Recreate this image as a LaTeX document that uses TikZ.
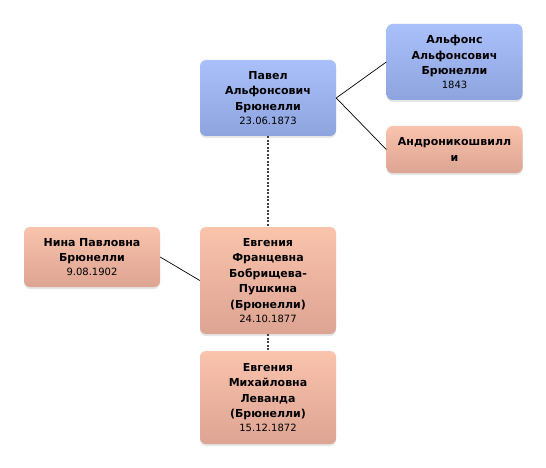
\documentclass[tikz,border=0pt]{standalone}
\usepackage{fontspec}
\setmainfont{DejaVu Sans}
\usetikzlibrary{shadows,positioning}

\definecolor{maletop}{HTML}{A9C0FA}
\definecolor{malebot}{HTML}{8EA4DE}
\definecolor{femtop}{HTML}{FAC3AC}
\definecolor{fembot}{HTML}{DCA492}
\newcommand{\bdate}[1]{\\[-1.5pt]{\mdseries\fontsize{10}{12}\selectfont #1}}

\begin{document}
\begin{tikzpicture}[x=1pt, y=1pt,
  person/.style={rectangle, rounded corners=6pt, minimum width=136pt, text width=122pt, align=center, inner sep=7pt, font=\fontsize{11}{15.5}\selectfont\bfseries, drop shadow={shadow xshift=0pt, shadow yshift=-2pt, opacity=0.2}},
  male/.style={person, top color=maletop, bottom color=malebot},
  female/.style={person, top color=femtop, bottom color=fembot},
  link/.style={line width=0.7pt, black},
  kin/.style={line width=1.3pt, black!75, dash pattern=on 2pt off 1.5pt}
]
  \useasboundingbox (0,0) rectangle (546,-468);

  \node[male, minimum height=76pt] (pavel) at (268,-98) {Павел\\Альфонсович\\Брюнелли\bdate{23.06.1873}};
  \node[male, minimum height=76pt] (alfons) at (454.5,-62) {Альфонс\\Альфонсович\\Брюнелли\bdate{1843}};
  \node[female, minimum height=47pt] (andro) at (454.5,-149.5) {Андроникошвилл\\и};
  \node[female, minimum height=60pt] (nina) at (92,-257) {Нина Павловна\\Брюнелли\bdate{9.08.1902}};
  \node[female, minimum height=107pt] (evgf) at (268,-280.5) {Евгения\\Францевна\\Бобрищева-\\Пушкина\\(Брюнелли)\bdate{24.10.1877}};
  \node[female, minimum height=93pt] (evgm) at (268,-397.5) {Евгения\\Михайловна\\Леванда\\(Брюнелли)\bdate{15.12.1872}};

  \draw[link] (pavel.east) -- (alfons.west);
  \draw[link] (pavel.east) -- (andro.west);
  \draw[link] (nina.east) -- (evgf.west);
  \draw[kin] (pavel.south) -- (evgf.north);
  \draw[kin] (evgf.south) -- (evgm.north);
\end{tikzpicture}
\end{document}
